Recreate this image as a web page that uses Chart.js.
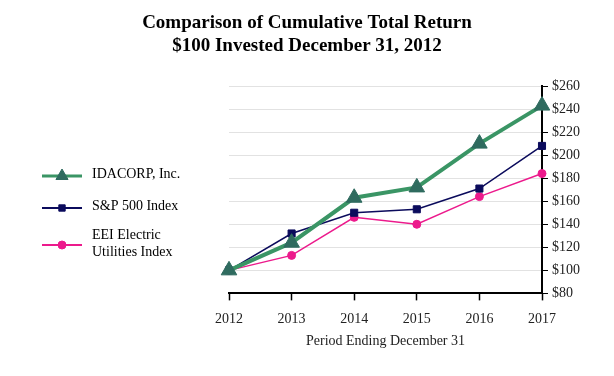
<!DOCTYPE html>
<html>
<head>
<meta charset="utf-8">
<script src="https://cdn.jsdelivr.net/npm/chart.js@4/dist/chart.umd.min.js"></script>
<style>
  html, body { margin: 0; padding: 0; background: #fff; }
  #wrap { width: 614px; height: 376px; position: relative; }
</style>
</head>
<body>
<div id="wrap"><canvas id="chart"></canvas></div>
<script>
// ── Data ────────────────────────────────────────────────────────────────────
const YEARS = ["2012", "2013", "2014", "2015", "2016", "2017"];
const IDACORP = [100, 124, 163, 172, 210, 243];
const SP500   = [100, 132, 150, 153, 171, 208];
const EEI     = [100, 113, 146, 140, 164, 184];
const Y_TICKS = [80, 100, 120, 140, 160, 180, 200, 220, 240, 260];

const TITLE_LINES = ["Comparison of Cumulative Total Return", "$100 Invested December 31, 2012"];
const SERIF = "'Liberation Serif', 'DejaVu Serif', serif";

// Colours
const GREEN_LINE = "#3a9565";
const GREEN_MARK = "#2f6b5f";
const NAVY       = "#0b0b5c";
const PINK       = "#ec1a8c";

const LEGEND = [
    { lines: ["IDACORP, Inc."],                   color: GREEN_LINE, mark: GREEN_MARK, style: "triangle", width: 3, r: 7,   y: 176 },
    { lines: ["S&P 500 Index"],                   color: NAVY,       mark: NAVY,       style: "rect",     width: 2, r: 4.5, y: 208 },
    { lines: ["EEI Electric", "Utilities Index"], color: PINK,       mark: PINK,       style: "circle",   width: 2, r: 4,   y: 245 },
];

// ── Title + legend drawn straight onto the canvas ──────────────────────────
const decorPlugin = {
    id: "decor",
    afterDraw(chart) {
        const ctx = chart.ctx;
        ctx.save();
        ctx.fillStyle = "#000";
        ctx.textAlign = "center";
        ctx.textBaseline = "middle";
        ctx.font = `bold 19px ${SERIF}`;
        ctx.fillText(TITLE_LINES[0], 307, 23);
        ctx.fillText(TITLE_LINES[1], 307, 46);

        LEGEND.forEach((item) => {
            ctx.strokeStyle = item.color;
            ctx.lineWidth = item.width;
            ctx.beginPath();
            ctx.moveTo(42, item.y);
            ctx.lineTo(82, item.y);
            ctx.stroke();

            ctx.fillStyle = item.mark;
            ctx.strokeStyle = item.mark;
            ctx.lineWidth = 1;
            Chart.helpers.drawPoint(ctx, {
                pointStyle: item.style, radius: item.r, rotation: 0, borderWidth: 1,
            }, 62, item.y);

            ctx.fillStyle = "#000";
            ctx.textAlign = "left";
            ctx.font = `14px ${SERIF}`;
            const top = item.y - (item.lines.length - 1) * 8 - 2;
            item.lines.forEach((t, i) => ctx.fillText(t, 92, top + i * 17));
        });
        ctx.restore();
    },
};

function series(label, data, line, mark, width, style, radius) {
    return {
        label, data,
        borderColor: line,
        borderWidth: width,
        backgroundColor: mark,
        pointBackgroundColor: mark,
        pointBorderColor: mark,
        pointBorderWidth: 1,
        pointStyle: style,
        pointRadius: radius,
        pointHoverRadius: radius,
        tension: 0,
        clip: false,
    };
}

new Chart(document.getElementById("chart"), {
    type: "line",
    data: {
        labels: YEARS,
        datasets: [
            series("IDACORP, Inc.", IDACORP, GREEN_LINE, GREEN_MARK, 4,   "triangle", 9),
            series("S&P 500 Index", SP500,   NAVY,       NAVY,       1.5, "rect",     5),
            series("EEI Electric Utilities Index", EEI, PINK, PINK,  1.5, "circle",   4),
        ],
    },
    plugins: [decorPlugin],
    options: {
        responsive: true,
        maintainAspectRatio: false,
        animation: false,
        layout: { padding: { left: 229, top: 86, right: 0, bottom: 22 } },
        plugins: {
            legend: { display: false },
            title: { display: false },
            tooltip: { enabled: false },
        },
        scales: {
            x: {
                offset: false,
                grid: { drawOnChartArea: false, tickColor: "#000", tickLength: 7, tickWidth: 1.5 },
                border: { color: "#000", width: 2 },
                ticks: { color: "#222", padding: 11, font: { family: SERIF, size: 14 } },
                title: {
                    display: true,
                    text: "Period Ending December 31",
                    color: "#222",
                    padding: { top: -6 },
                    font: { family: SERIF, size: 14 },
                },
            },
            y: {
                position: "right",
                min: 80, max: 260,
                afterBuildTicks: (scale) => { scale.ticks = Y_TICKS.map(v => ({ value: v })); },
                afterFit: (scale) => { scale.width = 72; },
                grid: { color: "#e2e2e2", tickColor: "#000", tickLength: 6, lineWidth: 1 },
                border: { color: "#000", width: 2 },
                ticks: {
                    color: "#222", padding: 4,
                    font: { family: SERIF, size: 14 },
                    callback: (v) => "$" + v,
                },
            },
        },
    },
});
</script>
</body>
</html>
